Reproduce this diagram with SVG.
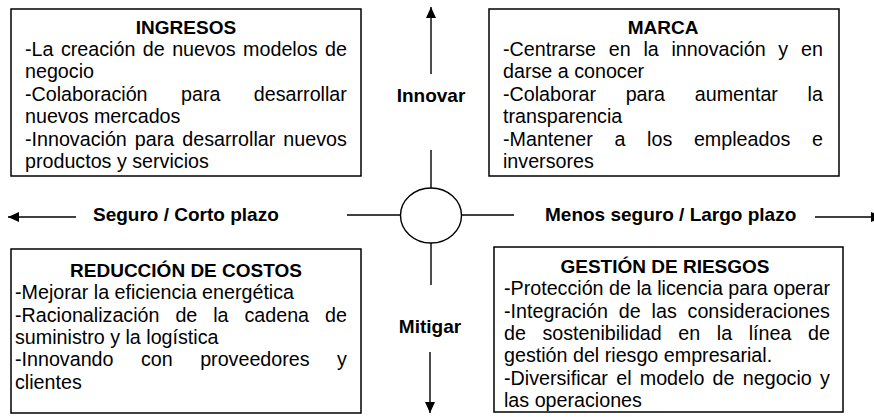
<svg xmlns="http://www.w3.org/2000/svg" width="874" height="417" viewBox="0 0 874 417">
<defs>
<style>
.box{fill:#fff;stroke:#000;stroke-width:1.5}
.t{font-family:"Liberation Sans",Arial,sans-serif;font-size:19.7px;fill:#000}
.h{font-weight:bold;text-anchor:middle;font-size:19px}
.lb{font-family:"Liberation Sans",Arial,sans-serif;font-size:19px;font-weight:bold;fill:#000}
.ln{stroke:#000;stroke-width:1.4;fill:none}
</style>
<marker id="ah" viewBox="0 0 11 10" refX="11" refY="5" markerWidth="11" markerHeight="10" markerUnits="userSpaceOnUse" orient="auto">
<path d="M0,0 L11,5 L0,10 z" fill="#000"/>
</marker>
</defs>
<rect width="874" height="417" fill="#fff"/>

<g id="ingresos">
<rect class="box" x="11" y="9" width="350" height="167"/>
<text class="t h" x="186" y="33.5">INGRESOS</text>
<text class="t" x="25" y="56" word-spacing="1.99">-La creación de nuevos modelos de</text>
<text class="t" x="25" y="78.4">negocio</text>
<text class="t" x="25" y="100.8" word-spacing="27.98">-Colaboración para desarrollar</text>
<text class="t" x="25" y="123.2">nuevos mercados</text>
<text class="t" x="25" y="145.6" word-spacing="2.59">-Innovación para desarrollar nuevos</text>
<text class="t" x="25" y="168">productos y servicios</text>
</g>

<g id="marca">
<rect class="box" x="489" y="9" width="350" height="167"/>
<text class="t h" x="663" y="33.5">MARCA</text>
<text class="t" x="503" y="56" word-spacing="7.28">-Centrarse en la innovación y en</text>
<text class="t" x="503" y="78.4">darse a conocer</text>
<text class="t" x="503" y="100.8" word-spacing="24.19">-Colaborar para aumentar la</text>
<text class="t" x="503" y="123.2">transparencia</text>
<text class="t" x="503" y="145.6" word-spacing="16.22">-Mantener a los empleados e</text>
<text class="t" x="503" y="168">inversores</text>
</g>

<g id="reduccion">
<rect class="box" x="11" y="249" width="350" height="164"/>
<text class="t h" x="186" y="277">REDUCCIÓN DE COSTOS</text>
<text class="t" x="15" y="299.3">-Mejorar la eficiencia energética</text>
<text class="t" x="15" y="321.6" word-spacing="10.46">-Racionalización de la cadena de</text>
<text class="t" x="15" y="343.9">suministro y la logística</text>
<text class="t" x="15" y="366.2" word-spacing="21.97">-Innovando con proveedores y</text>
<text class="t" x="15" y="388.5">clientes</text>
</g>

<g id="gestion">
<rect class="box" x="494" y="247" width="349" height="165"/>
<text class="t h" x="665" y="273">GESTIÓN DE RIESGOS</text>
<text class="t" x="504" y="295.3">-Protección de la licencia para operar</text>
<text class="t" x="504" y="317.6" word-spacing="5.38">-Integración de las consideraciones</text>
<text class="t" x="504" y="339.9" word-spacing="11.10">de sostenibilidad en la línea de</text>
<text class="t" x="504" y="362.2">gestión del riesgo empresarial.</text>
<text class="t" x="504" y="384.5" word-spacing="2.80">-Diversificar el modelo de negocio y</text>
<text class="t" x="504" y="406.8">las operaciones</text>
</g>

<g id="centro">
<ellipse class="ln" cx="431" cy="215.5" rx="30.5" ry="27.5" fill="#fff"/>
</g>

<g id="innovar"><text class="lb" x="431" y="102" text-anchor="middle">Innovar</text></g>
<g id="mitigar"><text class="lb" x="430" y="333" text-anchor="middle">Mitigar</text></g>
<g id="seguro"><text class="lb" x="93" y="221">Seguro / Corto plazo</text></g>
<g id="menos-seguro"><text class="lb" x="545" y="221">Menos seguro / Largo plazo</text></g>

<g id="connectors">
<line class="ln" x1="431" y1="74" x2="431" y2="7" marker-end="url(#ah)"/>
<line class="ln" x1="431" y1="150" x2="431" y2="188"/>
<line class="ln" x1="431" y1="243" x2="431" y2="285"/>
<line class="ln" x1="430" y1="352" x2="430" y2="413" marker-end="url(#ah)"/>
<line class="ln" x1="347" y1="215" x2="400.5" y2="215"/>
<line class="ln" x1="461.5" y1="215" x2="514" y2="215"/>
<line class="ln" x1="76" y1="217" x2="8" y2="217" marker-end="url(#ah)"/>
<line class="ln" x1="815" y1="217" x2="882" y2="217" marker-end="url(#ah)"/>
</g>
</svg>
